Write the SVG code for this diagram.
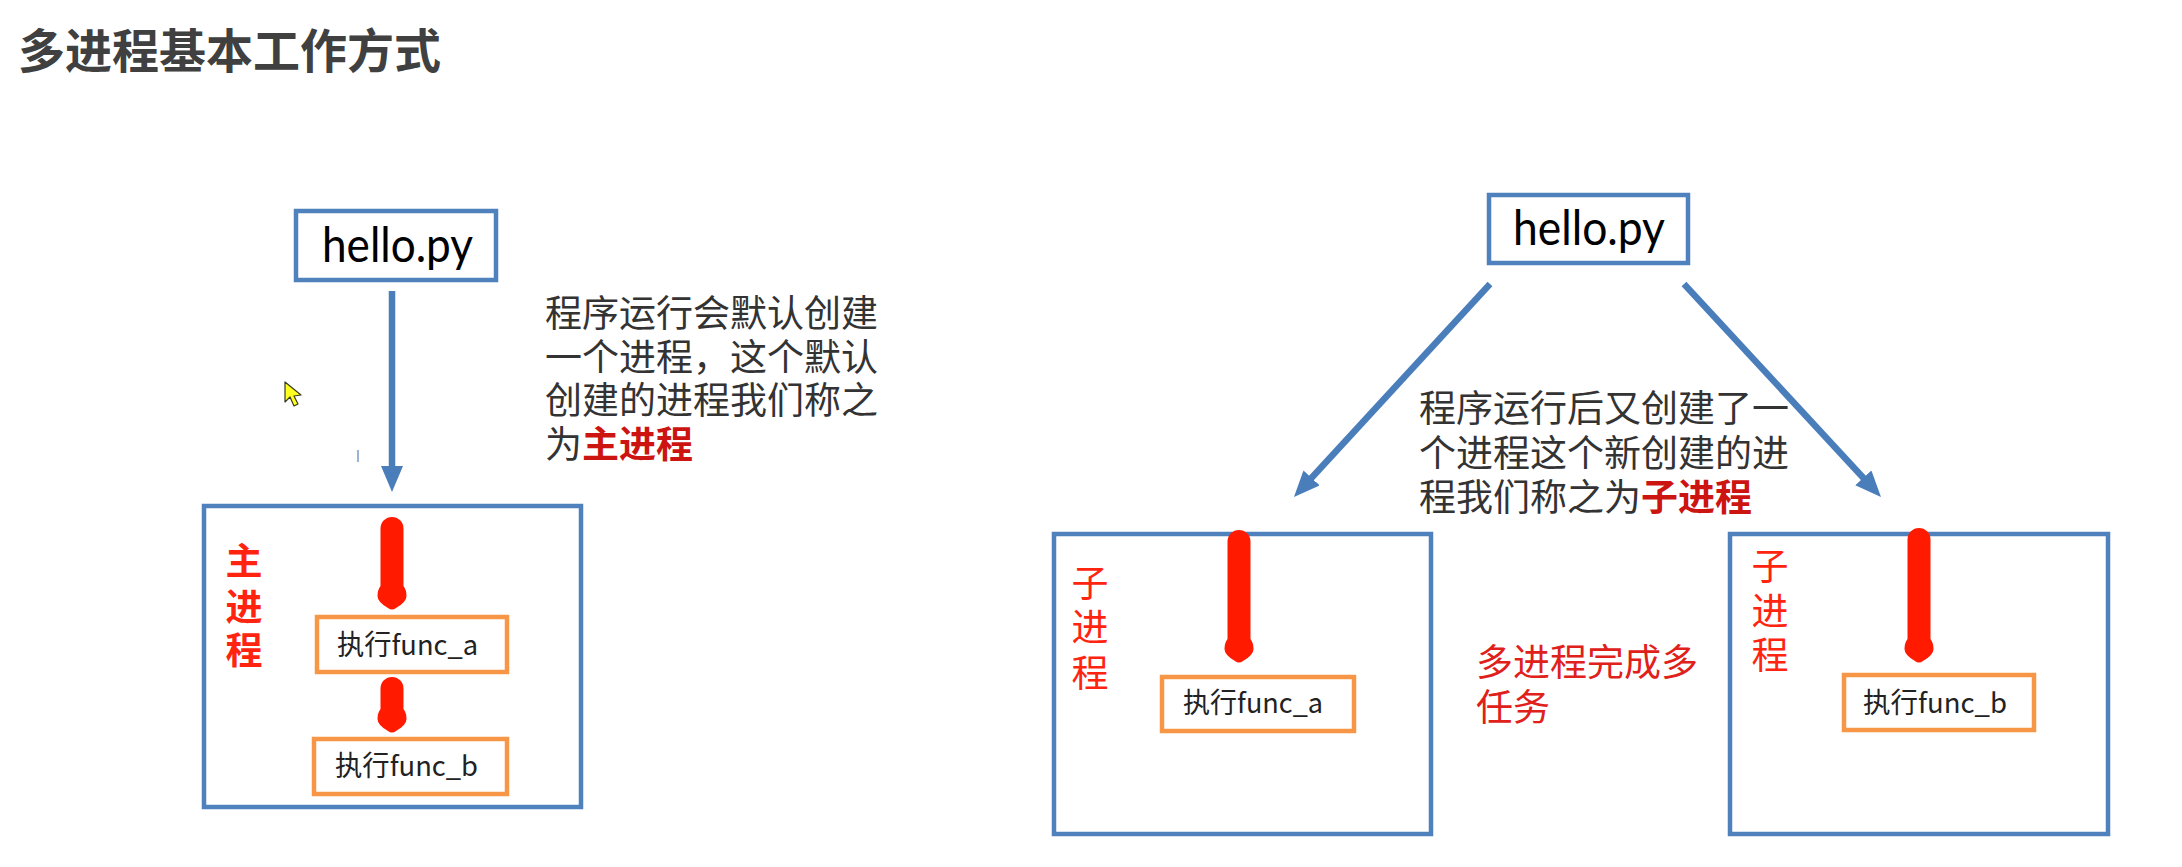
<svg xmlns="http://www.w3.org/2000/svg" width="2182" height="867" viewBox="0 0 2182 867">
<style>
  .cjk { font-family: "Noto Sans CJK SC", "Noto Sans", sans-serif; }
  .title { font-size: 47px; font-weight: bold; fill: #404040; }
  .desc { font-size: 37px; fill: #333333; }
  .em { font-weight: bold; fill: #cc1410; }
  .vlabel { font-size: 37px; fill: #ff2410; text-anchor: middle; }
  .vbold { font-weight: bold; }
  .red2 { font-size: 37px; fill: #e0201a; }
  .func { font-size: 28px; fill: #222222; }
  .hello { font-family: Lato, "Liberation Sans", sans-serif; font-size: 48px; fill: #000000; }
  .bbox { fill: #ffffff; stroke: #4f81bd; stroke-width: 4.5; }
  .obox { fill: #ffffff; stroke: #f79646; stroke-width: 4.5; }
  .blue { stroke: #4a7ebb; stroke-width: 6.5; fill: none; }
  .redarrow { fill: #ff1a00; }
</style>
<defs>
  <marker id="bhead" markerUnits="userSpaceOnUse" markerWidth="26" markerHeight="22" refX="6" refY="11" orient="auto">
    <path d="M0,0 L26,11 L0,22 Z" fill="#4a7ebb"/>
  </marker>
</defs>
<rect width="2182" height="867" fill="#ffffff"/>

<text class="cjk title" x="18" y="68">多进程基本工作方式</text>

<g id="hello-left">
  <rect class="bbox" x="296" y="211" width="200" height="69"/>
  <text class="hello" x="322" y="262" textLength="151" lengthAdjust="spacingAndGlyphs">hello.py</text>
</g>

<g id="desc-left">
  <text class="cjk desc" x="545" y="327">程序运行会默认创建<tspan x="545" dy="44">一个进程，这个默认</tspan><tspan x="545" dy="43">创建的进程我们称之</tspan><tspan x="545" dy="44">为</tspan><tspan class="em">主进程</tspan></text>
</g>

<g id="cursor">
  <polygon points="285,382 285,402 290,397 294,406 298,404 294,396 301,395" fill="#ffff20" stroke="#3a3a20" stroke-width="1.2" stroke-linejoin="round"/>
  <line x1="358" y1="450" x2="358" y2="462" stroke="#9ab4d8" stroke-width="2"/>
</g>

<g id="main-process">
  <rect class="bbox" x="204" y="506" width="377" height="301"/>
  <text class="cjk vlabel vbold" x="244" y="575">主<tspan x="244" dy="46">进</tspan><tspan x="244" dy="43">程</tspan></text>
</g>

<g id="main-func-a">
  <rect class="obox" x="317" y="617" width="190" height="55"/>
  <text class="cjk func" x="337" y="655" textLength="141" lengthAdjust="spacingAndGlyphs">执行func_a</text>
</g>

<g id="main-func-b">
  <rect class="obox" x="314" y="739" width="193" height="55"/>
  <text class="cjk func" x="335" y="776" textLength="143" lengthAdjust="spacingAndGlyphs">执行func_b</text>
</g>

<g id="hello-right">
  <rect class="bbox" x="1489" y="195" width="199" height="68"/>
  <text class="hello" x="1513" y="245" textLength="152" lengthAdjust="spacingAndGlyphs">hello.py</text>
</g>

<g id="desc-right">
  <text class="cjk desc" x="1419" y="422">程序运行后又创建了一<tspan x="1419" dy="45">个进程这个新创建的进</tspan><tspan x="1419" dy="44">程我们称之为</tspan><tspan class="em">子进程</tspan></text>
</g>

<g id="child-1">
  <rect class="bbox" x="1054" y="534" width="377" height="300"/>
  <text class="cjk vlabel" x="1090" y="597">子<tspan x="1090" dy="44">进</tspan><tspan x="1090" dy="46">程</tspan></text>
</g>

<g id="child-1-func-a">
  <rect class="obox" x="1162" y="677" width="192" height="54"/>
  <text class="cjk func" x="1183" y="713" textLength="140" lengthAdjust="spacingAndGlyphs">执行func_a</text>
</g>

<g id="multi-note">
  <text class="cjk red2" x="1476" y="676">多进程完成多<tspan x="1476" dy="45">任务</tspan></text>
</g>

<g id="child-2">
  <rect class="bbox" x="1730" y="534" width="378" height="300"/>
  <text class="cjk vlabel" x="1770" y="580">子<tspan x="1770" dy="45">进</tspan><tspan x="1770" dy="44">程</tspan></text>
</g>

<g id="child-2-func-b">
  <rect class="obox" x="1844" y="675" width="190" height="55"/>
  <text class="cjk func" x="1863" y="713" textLength="144" lengthAdjust="spacingAndGlyphs">执行func_b</text>
</g>

<g id="connectors">
  <line class="blue" x1="392" y1="291" x2="392" y2="472" marker-end="url(#bhead)"/>
  <line class="blue" x1="1490" y1="284" x2="1307.5" y2="482.3" marker-end="url(#bhead)"/>
  <line class="blue" x1="1684" y1="284" x2="1867.4" y2="482.3" marker-end="url(#bhead)"/>
  <path class="redarrow" d="M380.5,528.5 A11.5,11.5 0 0 1 403.5,528.5 L403.5,586 Q406.5,590 406.5,596 Q406.5,602 396,608 Q392,611 388,608 Q377.5,602 377.5,596 Q377.5,590 380.5,586 Z"/>
  <path class="redarrow" d="M380.5,688.5 A11.5,11.5 0 0 1 403.5,688.5 L403.5,709 Q406.5,713 406.5,719 Q406.5,725 396,731 Q392,734 388,731 Q377.5,725 377.5,719 Q377.5,713 380.5,709 Z"/>
  <path class="redarrow" d="M1227.5,541.5 A11.5,11.5 0 0 1 1250.5,541.5 L1250.5,639 Q1253.5,643 1253.5,649 Q1253.5,655 1243,661 Q1239,664 1235,661 Q1224.5,655 1224.5,649 Q1224.5,643 1227.5,639 Z"/>
  <path class="redarrow" d="M1907.5,539.5 A11.5,11.5 0 0 1 1930.5,539.5 L1930.5,639 Q1933.5,643 1933.5,649 Q1933.5,655 1923,661 Q1919,664 1915,661 Q1904.5,655 1904.5,649 Q1904.5,643 1907.5,639 Z"/>
</g>
</svg>
